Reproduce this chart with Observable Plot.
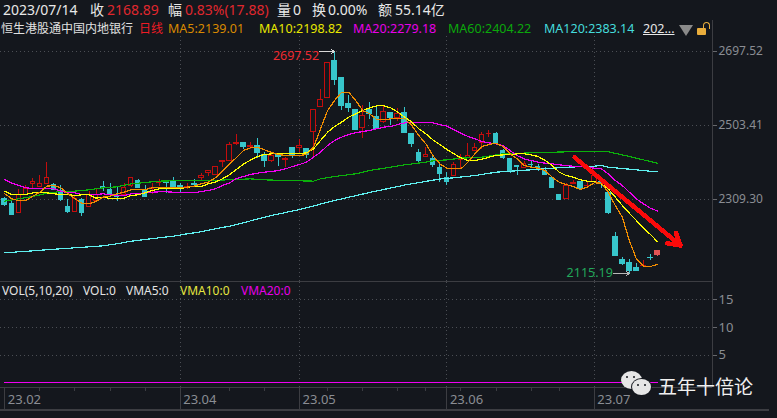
<!DOCTYPE html>
<html><head><meta charset="utf-8">
<script src="https://cdn.jsdelivr.net/npm/d3@7"></script>
<script src="https://cdn.jsdelivr.net/npm/@observablehq/plot@0.6"></script>
<style>
html,body{margin:0;padding:0;background:#14171d;width:777px;height:418px;overflow:hidden}
body{position:relative;font-family:"Noto Sans","Noto Sans CJK SC",sans-serif}
#head{position:relative;height:36px;width:777px}
#head span,.lab{position:absolute;white-space:nowrap;line-height:16px}
.r1{top:2px;font-size:14px}.r2{top:21px;font-size:12.5px}
svg{display:block;background:#14171d}
svg *{shape-rendering:crispEdges}
svg text{shape-rendering:auto}
#volhead span{position:absolute;top:283px;font-size:12px;line-height:16px;white-space:nowrap}
.bub{position:absolute;border-radius:50%;background:#e6e6e6}
.eye{position:absolute;width:2px;height:2px;background:#14171d;border-radius:50%}
</style></head><body>
<div id="head"></div><div id="main"></div><div id="vol"></div><div id="volhead"></div>
<div class="bub" style="left:621px;top:371px;width:21px;height:18px"></div>
<div class="eye" style="left:626px;top:376px"></div><div class="eye" style="left:633px;top:376px"></div>
<div class="bub" style="left:632px;top:379px;width:19px;height:16px;box-shadow:0 0 0 1px #14171d"></div>
<div class="eye" style="left:637px;top:384px"></div><div class="eye" style="left:644px;top:384px"></div>
<div class="lab" style="left:658px;top:374px;font-size:19px;line-height:24px;color:#f0f0f0;font-family:'Noto Sans CJK SC'">五年十倍论</div>
<script>
const opens=[2309.3,2296.2,2274.3,2319.8,2350.4,2341.7,2350.4,2347.8,2330.3,2290.9,
2276.1,2306.7,2289.2,2304.9,2341.7,2334.7,2318,2322.4,2346,2359.1,
2332.9,2337.3,2352.1,2353.9,2357.4,2343.4,2339.9,2348.7,2364.4,2378.4,
2373.1,2407.2,2409.9,2453.6,2458,2448.3,2449.2,2426.5,2409.9,2429.1,
2412.5,2444.8,2444.8,2440.5,2485.9,2551.5,2575.1,2671.3,2626.7,2561.1,
2544.5,2496.4,2543.6,2525.3,2513,2537.5,2523.5,2537.5,2479.8,2430,
2420.4,2416,2393.2,2366.1,2370.5,2411.6,2418.6,2436.1,2457.9,2479.8,
2479.8,2437.8,2416.8,2396.7,2391.5,2401.1,2394.1,2383.6,2364.4,2319.8,
2309.3,2350.4,2353.9,2343.4,2354.7,2353.9,2326.8,2212.2,2151.9,2143.1,
2130,2134.4,2157.1,2164.1];
const closes=[2294.4,2268.2,2322.4,2337.3,2355.6,2350.4,2366.1,2335.5,2308.4,2276.1,
2311.1,2273.5,2319.8,2319.8,2339.9,2322.4,2315.4,2339.9,2366.1,2338.2,
2315.4,2339.9,2353.9,2352.1,2339.9,2339.9,2341.7,2346.9,2370.5,2383.6,
2394.1,2409,2452.7,2457.1,2446.6,2450,2430.8,2409,2424.7,2420.4,
2416,2422.1,2450.1,2427.3,2544.5,2570.7,2667.8,2621.5,2554.1,2548,
2492.9,2529.6,2532.3,2494.7,2539.3,2523.5,2532.3,2485,2453.6,2409.9,
2426.5,2401.1,2374.9,2354.7,2398.5,2418.6,2422.1,2444.8,2477.2,2481.5,
2455.3,2417.7,2381,2395,2402.8,2399.3,2391.5,2374,2339.9,2306.7,
2345.1,2352.1,2337.3,2346,2372.2,2350.4,2273.4,2162.4,2138.8,2121.3,
2123,2136.1,2155.4,2173.7];
const highs=[2315.4,2308.4,2334.7,2346,2364.4,2372.3,2405.5,2350.4,2346,2309.3,
2317.2,2311.1,2331.2,2334.7,2356.5,2350.4,2341.7,2350.4,2366.1,2360.9,
2346,2352.1,2360.9,2359.1,2367.9,2352.1,2350.4,2360.9,2376.6,2385.4,
2394.1,2411.6,2457.9,2478.9,2459.7,2458.8,2468.5,2433.5,2430.8,2430.8,
2420.4,2446.6,2465.8,2442.2,2544.5,2597.8,2667.8,2697.52,2626.7,2582.1,
2544.5,2555.9,2564.6,2555.9,2554.1,2537.5,2547.1,2549.8,2481.6,2440.5,
2446.6,2422.1,2400.2,2381,2407.2,2427.3,2455.3,2455.3,2485.9,2490.3,
2484.1,2440.4,2416.8,2398.5,2409.8,2411.6,2401.1,2392.3,2366.1,2322.4,
2350.4,2359.1,2357.4,2357.4,2381,2367.9,2331.1,2222.7,2158,2151.9,
2140.5,2149.3,2164.1,2175.5];
const lows=[2290.9,2268.2,2274.3,2319.8,2337.3,2341.7,2350.4,2332.9,2304.9,2273.5,
2276.1,2264.7,2289.2,2302.3,2330.3,2319.8,2304.9,2319.8,2341.7,2338.2,
2315.4,2322.4,2343.4,2325.9,2337.3,2325.9,2334.7,2341.7,2359.1,2370.5,
2373.1,2394.1,2409.9,2451,2440.5,2440.5,2416,2392.4,2407.2,2395.9,
2392.4,2416,2433.5,2416,2418.6,2551.5,2575.1,2608.3,2542.8,2536.6,
2492.9,2470.2,2519.1,2492,2509.5,2503.4,2514.8,2481.6,2446.6,2404.6,
2418.6,2392.4,2354.7,2346,2370.5,2389.7,2418.6,2436.1,2439.6,2472.8,
2453.5,2414.2,2376.6,2372.2,2391.5,2392.3,2383.6,2372.2,2337.3,2306.7,
2309.3,2348.6,2332.9,2337.3,2350.4,2337.3,2270.8,2160.6,2136.1,2115.19,
2121.3,2131.8,2149.3,2159.8];
const ma5=[2324.2,2311.1,2305.8,2306.7,2318,2328.5,2344.3,2346,2339.9,2324.2,
2311.1,2299.7,2297.9,2304.1,2315.4,2318,2324.2,2328.5,2334.7,2334.7,
2335.5,2339.9,2341.7,2339.9,2341.7,2339.9,2341.7,2344.3,2350.4,2354.8,
2366.1,2383.6,2402.9,2418.6,2437.8,2444.8,2446.6,2439.6,2432.6,2427.3,
2424.7,2423.9,2424.7,2427.3,2446.6,2494.7,2542.8,2569,2590.9,2590.9,
2569,2542.8,2534,2519.1,2518.3,2520.9,2522.7,2520.9,2503.4,2477.2,
2455.3,2424.7,2402.8,2391.5,2389.7,2389.7,2407.2,2429.1,2448.3,2453.5,
2457,2448.3,2429.1,2415.9,2398.5,2394.1,2391.5,2385.3,2367.9,2354.7,
2348.6,2343.4,2335.5,2341.6,2353,2352.1,2328.5,2293.5,2262.9,2201.7,
2153.6,2134.4,2133.5,2139.01];
const ma10=[2331.2,2322.4,2321.5,2322.4,2326.8,2326.8,2326.8,2324.2,2322.4,2322.4,
2319.8,2321.5,2321.5,2312.8,2315.4,2311.9,2311.1,2312.8,2319.8,2321.5,
2326.8,2332.9,2337.3,2337.3,2337.3,2337.3,2341.7,2343.4,2343.4,2350.4,
2354.8,2363.5,2374,2388,2402,2412.5,2422.1,2427.3,2429.1,2430.8,
2430.8,2430,2430,2431.7,2442.2,2464.1,2485.9,2500.8,2512.2,2525.3,
2534,2542.8,2549.8,2555,2555,2549.8,2538.4,2525.3,2512.2,2494.7,
2481.6,2465.8,2453.5,2440.4,2429.1,2418.6,2411.6,2411.6,2415.1,2420.3,
2424.7,2426.4,2426.4,2429.1,2429.1,2426.4,2422.1,2411.6,2398.5,2381,
2372.2,2367.9,2360.9,2357.4,2356.5,2350.4,2337.3,2315.4,2293.5,2273.4,
2254.2,2235,2217.5,2198.82];
const ma20=[2360.9,2352.1,2346,2339.9,2338.2,2337.3,2337.3,2337.3,2331.2,2326.8,
2326.8,2322.4,2322.4,2322.4,2324.2,2321.5,2319.8,2319.8,2324.2,2324.2,
2326.8,2328.5,2329.4,2329.4,2328.5,2326.8,2326.8,2326.8,2330.3,2332.9,
2337.3,2346,2352.1,2364.4,2369.6,2374.9,2378.4,2381,2382.8,2385.4,
2389.7,2395.9,2401.1,2407.2,2420.4,2433.5,2451,2464.1,2472.8,2479.8,
2484.2,2487.7,2490.3,2494.7,2499,2500.8,2506,2510.4,2510.4,2510.4,
2510.4,2510.4,2506,2501.6,2492,2483.3,2474.5,2468.4,2461.4,2457.9,
2455.3,2450.9,2437.8,2424.7,2415.9,2411.6,2407.2,2404.6,2402.8,2400.2,
2398.5,2396.7,2395.8,2394.1,2391.5,2389.7,2376.6,2359.1,2346,2328.5,
2311,2297.9,2286.5,2279.18];
const ma60Idx=[0,2,4,6,8,10,12,14,16,18,20,22,24,28,33,35,37,40,44,45,47,50,52,55,57,60,61,63,65,68,71,75,80,86,88,91,93];
const ma60=[2304.9,2311.1,2317.2,2325.9,2330.3,2331.2,2334.7,2339.9,2342.5,2350.4,2353.9,2357.4,2358.3,2358.3,2361.8,2363.5,2360.9,2359.1,2357.4,2363.5,2369.6,2376.6,2385.4,2394.1,2400.2,2407.2,2410.7,2413.3,2417.7,2420.3,2429.1,2431.7,2434.3,2434.3,2426.4,2413.3,2404.22];
const ma120Idx=[0,2,4,6,8,10,12,14,16,18,20,22,24,26,28,30,32,33,38,42,47,52,57,62,64,67,70,72,75,80,84,85,86,89,92,93];
const ma120=[2169.5,2172.1,2174.7,2177.4,2180,2182.6,2185.2,2187.8,2193.1,2199.9,2204.4,2208.8,2213,2219.3,2224.6,2232.4,2239.3,2243.7,2267.3,2283,2306.7,2327.7,2347.3,2363.1,2366.2,2372.2,2380.9,2383.5,2387.2,2394,2396.6,2398.5,2394,2388.8,2383.5,2383.14];
const priceTicks=[2697.52,2503.41,2309.30];
const volTicks=[5,10,15];
const monthIdx=[0,25,42,63,84];
const monthLabels=["23.02","23.04","23.05","23.06","23.07"];
const minorIdx=[5,10,15,20,32,37,46,51,56,60,65,70,75,79];
const trendFrom=[81.2,2419.5], trendTo=[96.3,2188.6];
const maxPt=[47,2697.52], minPt=[89,2115.19];
const volLevels={top:18.26,axis:-0.85,bottom:-4.84,minor:-1.6};

const UP="#c40d0d",DOWN="#37c6cb",BG="#14171d",GRID="#4b4e54",AX="#3c3d42",TXT="#8a8d93";
const xDomain=[-0.613,100.85];
const rows=opens.map((o,i)=>({i,o,c:closes[i],h:highs[i],l:lows[i]}));
const col=d=>d.i===93?"#e05555":(d.c>=d.o?UP:DOWN);
const fillc=d=>d.i===93?"#e05555":(d.c>=d.o?BG:DOWN);
const series=(ys,idx)=>ys.map((y,k)=>({x:idx?idx[k]:k,y}));

const main=Plot.plot({
  width:777,height:245,marginLeft:0,marginRight:65,marginTop:0,marginBottom:0,
  x:{domain:xDomain,axis:null},
  y:{domain:[2094.2,2736.86],axis:null},
  style:{background:BG,fontFamily:"'Noto Sans',sans-serif"},
  marks:[
    Plot.ruleY(priceTicks,{stroke:GRID,strokeDasharray:"1,3"}),
    Plot.ruleX(monthIdx.slice(1),{stroke:GRID,strokeDasharray:"1,3"}),
    Plot.ruleX([xDomain[1]],{stroke:AX}),
    Plot.axisY(priceTicks,{anchor:"right",tickFormat:d=>d.toFixed(2),tickSize:4,tickPadding:2,stroke:"#66686d",fill:TXT,fontSize:12}),
    Plot.ruleX(rows,{x:"i",y1:"l",y2:"h",stroke:col}),
    Plot.rect(rows,{x1:d=>d.i-0.33,x2:d=>d.i+0.33,y1:"o",y2:"c",stroke:col,fill:fillc}),
    Plot.line(series(ma120,ma120Idx),{x:"x",y:"y",stroke:"#5ff0f0",strokeWidth:1.2}),
    Plot.line(series(ma60,ma60Idx),{x:"x",y:"y",stroke:"#0bb00b",strokeWidth:1.2}),
    Plot.line(series(ma20),{x:"x",y:"y",stroke:"#f000f0",strokeWidth:1.2}),
    Plot.line(series(ma10),{x:"x",y:"y",stroke:"#ffff00",strokeWidth:1.2}),
    Plot.line(series(ma5),{x:"x",y:"y",stroke:"#f08c00",strokeWidth:1.2}),
    Plot.arrow([0],{x1:trendFrom[0],y1:trendFrom[1],x2:trendTo[0],y2:trendTo[1],stroke:"#fa0a0a",strokeWidth:4.5,headLength:4.5,headAngle:60}),
    Plot.arrow([0],{x1:maxPt[0]-2.1,y1:maxPt[1],x2:maxPt[0],y2:maxPt[1],stroke:"#d8d8d8",strokeWidth:1,headLength:5}),
    Plot.arrow([0],{x1:minPt[0]-2.25,y1:minPt[1],x2:minPt[0],y2:minPt[1],stroke:"#b8b8b8",strokeWidth:1,headLength:5}),
    Plot.text([0],{x:maxPt[0]-2.2,y:maxPt[1],text:()=>maxPt[1].toFixed(2),textAnchor:"end",dy:5,fill:"#ee2a30",fontSize:12.5}),
    Plot.text([0],{x:minPt[0]-2.35,y:minPt[1],text:()=>minPt[1].toFixed(2),textAnchor:"end",dy:0,fill:"#22a85a",fontSize:12.5})
  ]
});
document.getElementById("main").append(main);

const vol=Plot.plot({
  width:777,height:137,marginLeft:0,marginRight:65,marginTop:0,marginBottom:0,
  x:{domain:xDomain,axis:null},
  y:{domain:[-6.47,18.35],axis:null},
  style:{background:BG,fontFamily:"'Noto Sans',sans-serif"},
  marks:[
    Plot.ruleY(volTicks,{stroke:GRID,strokeDasharray:"1,3"}),
    Plot.ruleX(monthIdx.slice(1),{y1:volLevels.axis,y2:volLevels.top,stroke:GRID,strokeDasharray:"1,3"}),
    Plot.axisY(volTicks,{anchor:"right",tickSize:4,tickPadding:2,stroke:"#66686d",fill:TXT,fontSize:13}),
    Plot.ruleY([volLevels.top,volLevels.axis],{stroke:AX}),
    Plot.ruleY([volLevels.bottom],{stroke:AX,strokeWidth:2,x1:-0.613,x2:109}),
    Plot.ruleX([xDomain[1]],{y1:volLevels.axis,y2:volLevels.top,stroke:AX}),
    Plot.ruleX(monthIdx,{y1:volLevels.axis,y2:volLevels.bottom,stroke:AX}),
    Plot.ruleX(minorIdx,{y1:volLevels.axis,y2:volLevels.minor,stroke:AX}),
    Plot.line(rows,{x:"i",y:()=>0,stroke:"#f000f0",strokeWidth:1}),
    Plot.text(monthIdx,{x:d=>d,y:volLevels.axis,text:(d,k)=>monthLabels[k],textAnchor:"start",dx:3,dy:12,fill:TXT,fontSize:13})
  ]
});
document.getElementById("vol").append(vol);

const h1=[["2023/07/14",3,"#e8e8e8"],["收",90,"#e8e8e8"],["2168.89",107,"#e0272e"],["幅",168,"#e8e8e8"],["0.83%(17.88)",185,"#e0272e"],["量",277,"#e8e8e8"],["0",293,"#e8e8e8"],["换",312,"#e8e8e8"],["0.00%",328,"#e8e8e8"],["额",378,"#e8e8e8"],["55.14亿",395,"#e8e8e8"]];
const h2=[["恒生港股通中国内地银行",1,"#e0e0e0"],["日线",139,"#ee1c25"],["MA5:2139.01",168,"#d98a00"],["MA10:2198.82",259,"#e8e800"],["MA20:2279.18",353,"#e800e8"],["MA60:2404.22",448,"#0ba80b"],["MA120:2383.14",544,"#45dcdc"]];
const head=document.getElementById("head");
const add=(p,[t,x,c],cls)=>{const s=document.createElement("span");s.className=cls;s.textContent=t;s.style.left=x+"px";s.style.color=c;p.append(s);return s;};
h1.forEach(r=>add(head,r,"r1"));
h2.forEach((r,k)=>{const s=add(head,r,"r2");if(k<2)s.style.fontSize="12px";});
const more=add(head,["202...",643,"#e8e8e8"],"r2");more.style.textDecoration="underline";
const tri=document.createElement("div");tri.style.cssText="position:absolute;left:679px;top:25px;width:0;height:0;border-left:7px solid transparent;border-right:7px solid transparent;border-top:11px solid #8a8a8a";head.append(tri);
const lock=document.createElement("div");lock.style.cssText="position:absolute;left:697px;top:28px;width:9px;height:7px;background:#e9ad3c;border-radius:1px";head.append(lock);
const shackle=document.createElement("div");shackle.style.cssText="position:absolute;left:703px;top:22px;width:5px;height:6px;border:1px solid #e9ad3c;border-bottom:none;border-radius:4px 4px 0 0";head.append(shackle);
const rail=document.createElement("div");rail.style.cssText="position:absolute;left:712px;top:20px;width:1px;height:16px;background:#3c3d42";head.append(rail);

const vh=[["VOL(5,10,20)",2,"#e4e4e4"],["VOL:0",83,"#e4e4e4"],["VMA5:0",126,"#e4e4e4"],["VMA10:0",180,"#e6e640"],["VMA20:0",241,"#e800e8"]];
const vhEl=document.getElementById("volhead");
vh.forEach(r=>add(vhEl,r,""));
</script>
</body></html>
